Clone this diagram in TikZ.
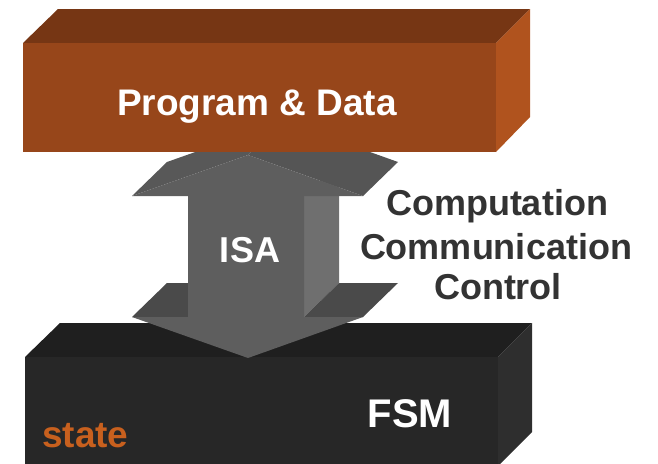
\documentclass[tikz,border=0pt]{standalone}
\usepackage{fontspec}
\setmainfont{Liberation Sans}
\definecolor{topfront}{RGB}{151,70,26}
\definecolor{toptop}{RGB}{118,54,20}
\definecolor{topright}{RGB}{176,83,30}
\definecolor{botfront}{RGB}{39,39,39}
\definecolor{bottop}{RGB}{31,31,31}
\definecolor{botright}{RGB}{46,46,46}
\definecolor{arrfront}{RGB}{94,94,94}
\definecolor{arrslopeL}{RGB}{88,88,88}
\definecolor{arrslopeR}{RGB}{85,85,85}
\definecolor{arrshaft}{RGB}{111,111,111}
\definecolor{arrwing}{RGB}{74,74,74}
\definecolor{statecol}{RGB}{200,96,30}
\definecolor{sidetext}{RGB}{51,51,51}
\tikzset{
  lbl/.style={font=\fontsize{#1}{#1}\selectfont\bfseries, inner sep=0pt, anchor=base},
  face/.style={fill=#1, draw=none},
}
\begin{document}
\begin{tikzpicture}[x=1pt,y=-1pt]
\useasboundingbox (0,0) rectangle (658,463);
% bottom box (FSM)
\fill[face=bottop] (25,357) -- (60,323) -- (532,323) -- (498,357) -- cycle;
\fill[face=botright] (498,357) -- (532,323) -- (532,432) -- (498,466) -- cycle;
\fill[face=botfront] (25,357) rectangle (498,470);
% 3D double arrow (ISA)
\fill[face=arrshaft] (304,196) -- (339,162) -- (339,283) -- (304,317) -- cycle;
\fill[face=arrslopeL] (132,196) -- (248,155) -- (283,121) -- (167,162) -- cycle;
\fill[face=arrslopeR] (248,155) -- (363,196) -- (398,162) -- (283,121) -- cycle;
\fill[face=arrwing] (132,317) -- (167,283) -- (223,283) -- (188,317) -- cycle;
\fill[face=arrwing] (304,317) -- (339,283) -- (398,283) -- (363,317) -- cycle;
\fill[face=arrfront] (248,155) -- (363,196) -- (304,196) -- (304,317) -- (363,317)
  -- (248,358) -- (132,317) -- (188,317) -- (188,196) -- (132,196) -- cycle;
% top box (Program & Data)
\fill[face=toptop] (23,43) -- (58,9) -- (530,9) -- (496,43) -- cycle;
\fill[face=topright] (496,43) -- (530,9) -- (530,117) -- (496,152) -- cycle;
\fill[face=topfront] (23,43) rectangle (496,152);
% labels
\node[lbl=37, text=white] (prog) at (257,115) {Program \& Data};
\node[lbl=36, text=white] (isa) at (250,262) {ISA};
\node[lbl=36, text=sidetext] (comp) at (497,215) {Computation};
\node[lbl=36, text=sidetext] (comm) at (496,259) {Communication};
\node[lbl=36, text=sidetext] (ctrl) at (498,299) {Control};
\node[lbl=40, text=white] (fsm) at (410,427) {FSM};
\node[lbl=37, text=statecol, anchor=base west] (state) at (42,447) {state};
\end{tikzpicture}
\end{document}
